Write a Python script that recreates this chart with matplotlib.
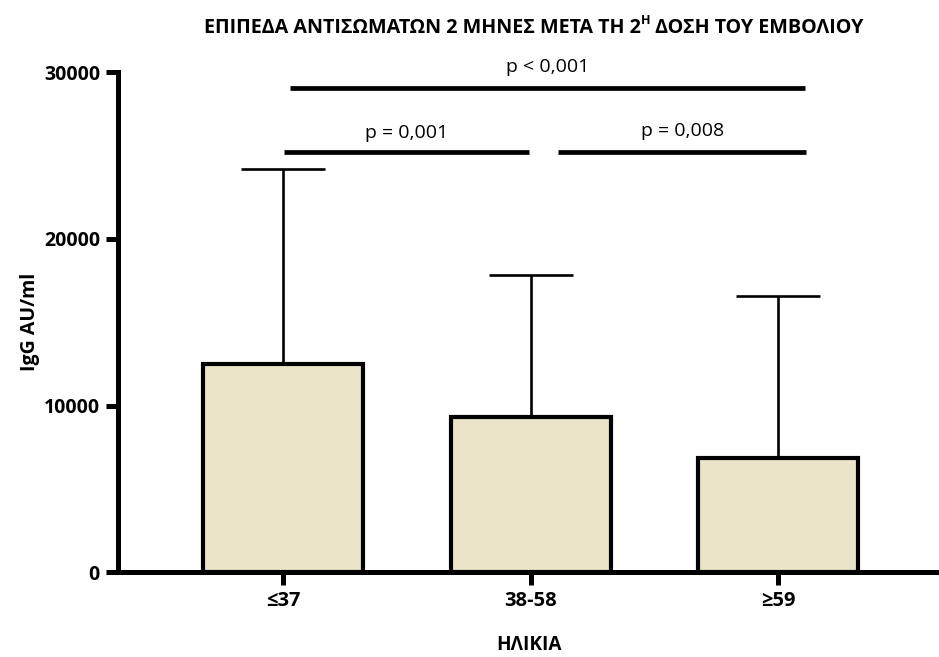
import matplotlib
matplotlib.use("Agg")
import matplotlib.pyplot as plt
import numpy as np

plt.rcParams['font.family'] = ['Open Sans', 'DejaVu Sans']

categories = ["\u226437", "38-58", "\u226559"]
means = [12500, 9300, 6830]
sd_upper = [11690, 8510, 9760]
yticks = [0, 10000, 20000, 30000]
p_texts = ["p < 0,001", "p = 0,001", "p = 0,008"]

title_main = "ΕΠΙΠΕΔΑ ΑΝΤΙΣΩΜΑΤΩΝ 2 ΜΗΝΕΣ ΜΕΤΑ ΤΗ 2"
title_sup = "Η"
title_end = " ΔΟΣΗ ΤΟΥ ΕΜΒΟΛΙΟΥ"
ylabel = "IgG AU/ml"
xlabel = "ΗΛΙΚΙΑ"

W, H = 939, 657
fig = plt.figure(figsize=(W / 100, H / 100), dpi=100)
ax = fig.add_axes([118 / W, 85 / H, 1 - 118 / W, (572 - 72.5) / H])

x = np.arange(len(categories))
ax.bar(x, means, width=0.646, color="#EAE5C8", edgecolor="black",
       linewidth=3.0, zorder=3)
ax.errorbar(x, means, yerr=[np.zeros(len(means)), sd_upper], fmt="none",
            ecolor="black", elinewidth=1.9, capsize=30, capthick=1.9, zorder=2)

ax.set_xlim(-0.667, 2.65)
ax.set_ylim(0, 30000)
ax.set_yticks(yticks)
ax.set_yticklabels([str(v) for v in yticks], fontsize=14, fontweight="bold")
ax.set_xticks(x)
ax.set_xticklabels(categories, fontsize=14.5, fontweight="bold")
for s in ["top", "right"]:
    ax.spines[s].set_visible(False)
for s in ["left", "bottom"]:
    ax.spines[s].set_linewidth(3.6)
ax.tick_params(axis="both", length=9, width=3.6, pad=4)
ax.tick_params(axis="x", pad=5)

ax.set_ylabel(ylabel, fontsize=14, fontweight="bold", labelpad=3)
ax.set_xlabel(xlabel, fontsize=13.7, fontweight="bold", labelpad=17)

# significance lines
lw_sig = 3.4
ax.plot([0.028, 2.11], [29080, 29080], color="black", lw=lw_sig, clip_on=False, solid_capstyle="butt")
ax.plot([0.004, 0.994], [25230, 25230], color="black", lw=lw_sig, clip_on=False, solid_capstyle="butt")
ax.plot([1.11, 2.113], [25230, 25230], color="black", lw=lw_sig, clip_on=False, solid_capstyle="butt")
ax.text(1.07, 30020, p_texts[0], ha="center", va="baseline", fontsize=14, clip_on=False)
ax.text(0.497, 26090, p_texts[1], ha="center", va="baseline", fontsize=14)
ax.text(1.612, 26170, p_texts[2], ha="center", va="baseline", fontsize=14)

# title with superscript
t1 = fig.text(204 / W, 1 - 33 / H, title_main, ha="left", va="baseline",
              fontsize=14.2, fontweight="bold")
t2 = ax.annotate(title_sup, xy=(1, 0.55), xycoords=t1, ha="left", va="bottom",
                 fontsize=9, fontweight="bold", annotation_clip=False)
t3 = ax.annotate(title_end, xy=(1, 0), xycoords=(t2, t1), ha="left", va="bottom",
                 fontsize=14.2, fontweight="bold", annotation_clip=False)

fig.savefig("out.png", dpi=100)
